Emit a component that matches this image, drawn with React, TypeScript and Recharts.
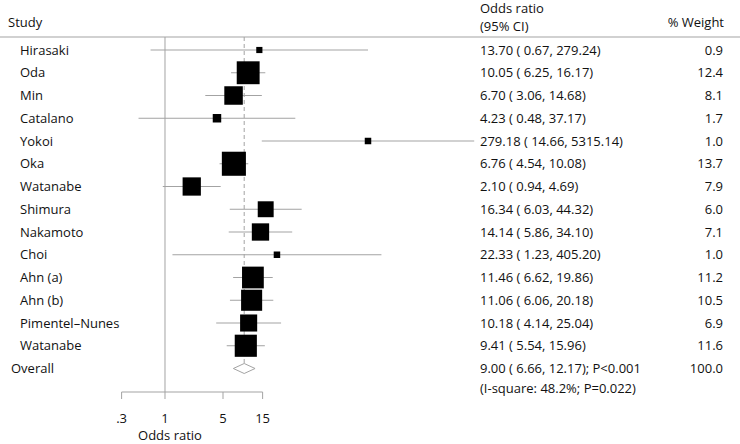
import { ComposedChart, Scatter, XAxis, YAxis, ReferenceLine } from 'recharts';

const studies = ['Hirasaki', 'Oda', 'Min', 'Catalano', 'Yokoi', 'Oka', 'Watanabe', 'Shimura', 'Nakamoto', 'Choi', 'Ahn (a)', 'Ahn (b)', 'Pimentel–Nunes', 'Watanabe'];
const oddsRatios = [13.7, 10.05, 6.7, 4.23, 279.18, 6.76, 2.1, 16.34, 14.14, 22.33, 11.46, 11.06, 10.18, 9.41];
const ciLow = [0.67, 6.25, 3.06, 0.48, 14.66, 4.54, 0.94, 6.03, 5.86, 1.23, 6.62, 6.06, 4.14, 5.54];
const ciHigh = [279.24, 16.17, 14.68, 37.17, 5315.14, 10.08, 4.69, 44.32, 34.1, 405.2, 19.86, 20.18, 25.04, 15.96];
const weights = [0.9, 12.4, 8.1, 1.7, 1.0, 13.7, 7.9, 6.0, 7.1, 1.0, 11.2, 10.5, 6.9, 11.6];

const overallOR = 9.0;
const overallLow = 6.66;
const overallHigh = 12.17;
const overallP = 'P<0.001';
const overallWeight = 100.0;
const heterogeneity = '(I-square: 48.2%; P=0.022)';

const xTicks = [0.3, 1, 5, 15];
const xTickLabels = ['.3', '1', '5', '15'];

const FONT = '"Open Sans", sans-serif';
const GRAY = '#a3a3a3';
const INK = '#111';

const lg = (v: number) => Math.log10(v);
const fmtCI = (o: number, l: number, h: number) => `${o.toFixed(2)} ( ${l.toFixed(2)}, ${h.toFixed(2)})`;

// plot area spans the whole svg width, axis line at the bottom
const X_DOMAIN = [-1.988, 6.928];
const Y_MIN = -2.198;
const Y_MAX = 15.033;
const HEADER_Y = -0.571;
const overallRow = studies.length;

const studyPoints = studies.map((name, i) => ({
  x: lg(oddsRatios[i]),
  y: i,
  w: weights[i],
}));

const labelRows = [
  ...studies.map((name, i) => ({
    x: 0,
    y: i,
    name,
    ci: fmtCI(oddsRatios[i], ciLow[i], ciHigh[i]),
    weight: weights[i].toFixed(1),
    overall: false,
  })),
  {
    x: 0,
    y: overallRow,
    name: 'Overall',
    ci: `${fmtCI(overallOR, overallLow, overallHigh)}; ${overallP}`,
    weight: overallWeight.toFixed(1),
    overall: true,
  },
];

const diamondH = 0.22;
const diamond = [
  { x: lg(overallLow), y: overallRow },
  { x: lg(overallOR), y: overallRow - diamondH },
  { x: lg(overallHigh), y: overallRow },
  { x: lg(overallOR), y: overallRow + diamondH },
  { x: lg(overallLow), y: overallRow },
];

const SquareShape = (props: any) => {
  const { cx, cy, payload } = props;
  const s = 6.5 * Math.sqrt(payload.w);
  return <rect x={cx - s / 2} y={cy - s / 2} width={s} height={s} fill="#000" />;
};

const LabelShape = (props: any) => {
  const { cy, payload } = props;
  return (
    <g fontFamily={FONT} fontSize={13} fill={INK}>
      <text x={payload.overall ? 11 : 20} y={cy} dy="0.35em">{payload.name}</text>
      <text x={480} y={cy} dy="0.35em">{payload.ci}</text>
      <text x={723} y={cy} dy="0.35em" textAnchor="end">{payload.weight}</text>
      {payload.overall && (
        <text x={480} y={cy + 20} dy="0.35em">{heterogeneity}</text>
      )}
    </g>
  );
};

const XTick = (props: any) => {
  const { x, y, payload, index } = props;
  return (
    <g fontFamily={FONT} fontSize={13} fill={INK}>
      <line x1={x} x2={x} y1={y} y2={y + 7} stroke={GRAY} />
      <text x={x} y={y + 26} dy="0.35em" textAnchor="middle">{xTickLabels[index]}</text>
      {payload.value === 0 && (
        <text x={x + 5} y={y + 43} dy="0.35em" textAnchor="middle">Odds ratio</text>
      )}
    </g>
  );
};

const headStyle = { position: 'absolute' as const, fontFamily: FONT, fontSize: 13, color: INK, lineHeight: '14px' };

export default function App() {
  return (
    <div style={{ position: 'absolute', left: 0, top: 0, width: 740, height: 444, background: '#fff' }}>
      <div style={{ ...headStyle, left: 8, top: 15 }}>Study</div>
      <div style={{ ...headStyle, left: 480, top: 1 }}>Odds ratio</div>
      <div style={{ ...headStyle, left: 480, top: 19 }}>(95% CI)</div>
      <div style={{ ...headStyle, right: 16, top: 15 }}>% Weight</div>
      <ComposedChart width={740} height={444} margin={{ top: 0, right: 0, bottom: 0, left: 0 }}>
        <XAxis
          type="number"
          dataKey="x"
          domain={X_DOMAIN}
          ticks={xTicks.map(lg)}
          axisLine={false}
          tickLine={false}
          tickSize={0}
          tickMargin={0}
          height={52}
          interval={0}
          tick={<XTick />}
        />
        <YAxis type="number" dataKey="y" domain={[Y_MIN, Y_MAX]} reversed hide />
        <ReferenceLine y={HEADER_Y} stroke={GRAY} />
        <ReferenceLine segment={[{ x: 0, y: HEADER_Y }, { x: 0, y: Y_MAX }]} stroke={GRAY} />
        <ReferenceLine
          segment={[{ x: lg(xTicks[0]), y: Y_MAX }, { x: lg(xTicks[xTicks.length - 1]), y: Y_MAX }]}
          stroke={GRAY}
        />
        <ReferenceLine
          segment={[{ x: lg(overallOR), y: HEADER_Y }, { x: lg(overallOR), y: overallRow - diamondH - 0.02 }]}
          stroke={GRAY}
          strokeDasharray="4 3"
        />
        {studies.map((s, i) => (
          <ReferenceLine
            key={i}
            segment={[{ x: lg(ciLow[i]), y: i }, { x: lg(ciHigh[i]), y: i }]}
            stroke={GRAY}
          />
        ))}
        <Scatter data={diamond} line={{ stroke: GRAY, strokeWidth: 1 }} lineType="joint" shape={() => <g />} isAnimationActive={false} />
        <Scatter data={studyPoints} shape={<SquareShape />} isAnimationActive={false} />
        <Scatter data={labelRows} shape={<LabelShape />} isAnimationActive={false} />
      </ComposedChart>
    </div>
  );
}
